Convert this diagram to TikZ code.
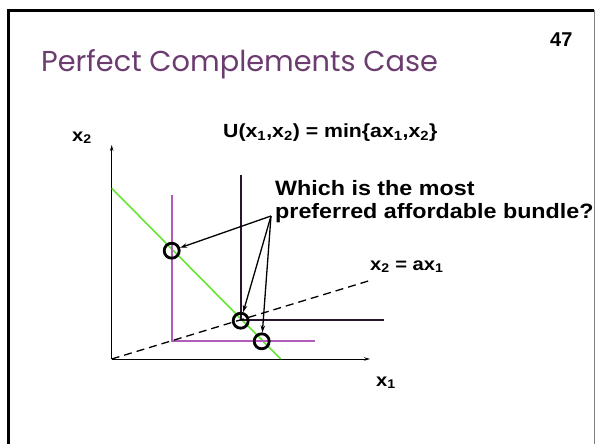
\documentclass[tikz,border=0pt]{standalone}
\usepackage{fontspec}
\usetikzlibrary{arrows.meta}
\newfontfamily\titlefont{Poppins}
\newfontfamily\labfont[FakeStretch=1.12]{Liberation Sans}
\newfontfamily\numfont{Liberation Sans}
\definecolor{titlepurple}{RGB}{108,60,112}
\definecolor{budgetgreen}{RGB}{102,230,51}
\definecolor{orchidL}{RGB}{178,92,185}
\definecolor{darkL}{RGB}{40,20,45}
\tikzset{
  lab/.style={inner sep=0pt, font=\labfont\bfseries},
  axisline/.style={line width=0.9pt, -{Stealth[length=6pt,width=3.5pt]}},
  kinked/.style={line width=2.4pt},
  bundle/.style={circle, draw=black, line width=2.8pt, minimum size=15pt, inner sep=0pt},
  pointer/.style={line width=1.3pt, -{Stealth[length=7pt,width=4.5pt]}},
}
\begin{document}
\begin{tikzpicture}[x=1pt,y=-1pt]
\useasboundingbox (0,0) rectangle (596,444);
% frame
\draw[line width=3pt] (8.3,444) -- (8.3,10.5) -- (594,10.5);
\draw[gray, line width=1pt] (594.8,10.5) -- (594.8,444);
% title and page number
\node[inner sep=0pt, anchor=base west, text=titlepurple, font=\titlefont\fontsize{28.8}{34}\selectfont] (title) at (41,71) {Perfect Complements Case};
\node[inner sep=0pt, anchor=base west, font=\numfont\bfseries\fontsize{20}{24}\selectfont] (num) at (550,47) {47};
% coordinates
\coordinate (O) at (111.7,359);
\coordinate (ytip) at (111.7,145);
\coordinate (xtip) at (370,359);
\coordinate (g1) at (111.7,188.3);
\coordinate (g2) at (280.7,359);
\coordinate (p1) at (171.7,195);
\coordinate (pc) at (171.7,340.7);
\coordinate (p2) at (315,340.7);
\coordinate (d1) at (241,175);
\coordinate (dc) at (241,320);
\coordinate (d2) at (384,320);
\coordinate (r) at (369.3,280.7);
\coordinate (q) at (271,216);
% axes
\draw[axisline] (O) -- (ytip);
\draw[axisline] (O) -- (xtip);
% budget line and indifference curves
\draw[budgetgreen, line width=1.6pt] (g1) -- (g2);
\draw[orchidL, kinked] (p1) -- (pc) -- (p2);
\draw[darkL, kinked] (d1) -- (dc) -- (d2);
\draw[line width=1.3pt, dash pattern=on 8pt off 5pt] (O) -- (r);
% bundles
\node[bundle] (c1) at (171.7,250.7) {};
\node[bundle] (c2) at (240.7,320.7) {};
\node[bundle] (c3) at (261.7,341.3) {};
% pointers
\draw[pointer] (q) -- (c1);
\draw[pointer] (q) -- (c2);
\draw[pointer] (q) -- (c3);
% labels
\node[lab, anchor=base west, font=\labfont\bfseries\fontsize{18}{22}\selectfont] (ylab) at (72,141) {x\textsubscript{2}};
\node[lab, anchor=base west, font=\labfont\bfseries\fontsize{18}{22}\selectfont] (xlab) at (376,386) {x\textsubscript{1}};
\node[lab, anchor=base west, font=\labfont\bfseries\fontsize{19}{23}\selectfont] (util) at (223,137.5) {U(x\textsubscript{1},x\textsubscript{2}) = min\{ax\textsubscript{1},x\textsubscript{2}\}};
\node[lab, anchor=base west, font=\labfont\bfseries\fontsize{20.8}{25}\selectfont] (q1) at (275,195) {Which is the most};
\node[lab, anchor=base west, font=\labfont\bfseries\fontsize{20.8}{25}\selectfont] (q2) at (275,218.5) {preferred affordable bundle?};
\node[lab, anchor=base west, font=\labfont\bfseries\fontsize{18}{22}\selectfont] (ray) at (370,270) {x\textsubscript{2} = ax\textsubscript{1}};
\end{tikzpicture}
\end{document}
